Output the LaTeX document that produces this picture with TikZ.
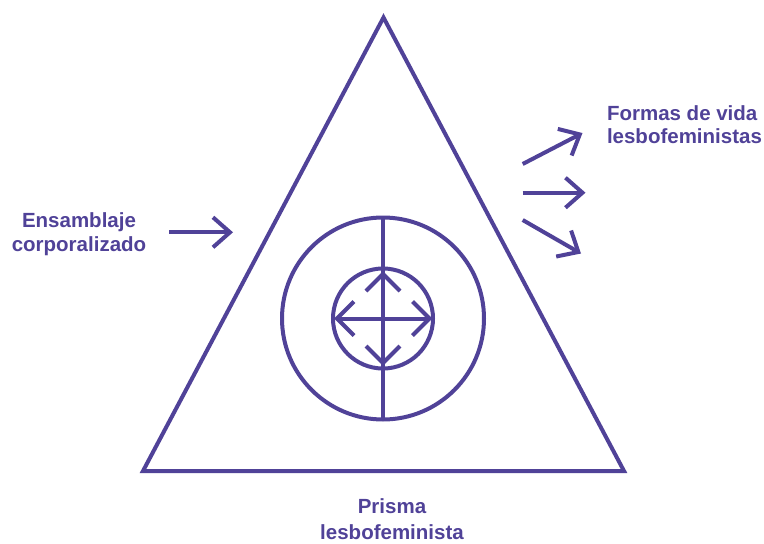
\documentclass[tikz,border=0pt]{standalone}
\usepackage{fontspec}
\setmainfont{Liberation Sans}
\usetikzlibrary{arrows.meta}
\definecolor{lp}{RGB}{80,66,152}
\begin{document}
\begin{tikzpicture}[x=1pt,y=-1pt,line width=4pt,
  lbl/.style={font=\bfseries\fontsize{20.5}{24}\selectfont,text=lp,inner sep=0pt},
  arr/.style={draw=lp,-{Straight Barb[length=17pt,width=30pt]}},
  shp/.style={draw=lp,line join=miter},
  ring/.style={circle,draw=lp,inner sep=0pt,outer sep=0pt}]
\useasboundingbox (0,0) rectangle (764,544);
% triangle
\coordinate (T) at (383.5,17.5);
\coordinate (BR) at (624,471);
\coordinate (BL) at (143,471);
\draw[shp] (T) -- (BR) -- (BL) -- cycle;
% circles
\node[ring,minimum size=202pt] (outer) at (383,318.5) {};
\node[ring,minimum size=100pt] (inner) at (383,318.5) {};
\draw[shp] (outer.north) -- (outer.south);
% central arrowheads
\coordinate (c) at (383,318.5);
\coordinate (at) at (383,274);
\coordinate (ab) at (383,363);
\coordinate (al) at (337,318.5);
\coordinate (ar) at (429.5,318.5);
\draw[shp] (al) -- (ar);
\draw[shp] ([shift={(-17,17)}]at) -- (at) -- ([shift={(17,17)}]at);
\draw[shp] ([shift={(-17,-17)}]ab) -- (ab) -- ([shift={(17,-17)}]ab);
\draw[shp] ([shift={(17,-17)}]al) -- (al) -- ([shift={(17,17)}]al);
\draw[shp] ([shift={(-17,-17)}]ar) -- (ar) -- ([shift={(-17,17)}]ar);
% labels
\node[lbl,anchor=base west] (f1) at (605,120) {Formas de vida};
\node[lbl,anchor=base west] (f2) at (605,143.5) {lesbofeministas};
\node[lbl,anchor=base] (e1) at (79,227) {Ensamblaje};
\node[lbl,anchor=base] (e2) at (79,251) {corporalizado};
\node[lbl,anchor=base] (p1) at (392,513) {Prisma};
\node[lbl,anchor=base] (p2) at (392,539) {lesbofeminista};
% side arrows
\coordinate (l0) at (169,232.3);
\coordinate (l1) at (233,232.3);
\draw[arr] (l0) -- (l1);
\coordinate (r0a) at (522.7,164);
\coordinate (r1a) at (582.5,133);
\coordinate (r0b) at (522.7,192.7);
\coordinate (r1b) at (585.5,192.7);
\coordinate (r0c) at (522.7,220);
\coordinate (r1c) at (581,253.5);
\draw[arr] (r0a) -- (r1a);
\draw[arr] (r0b) -- (r1b);
\draw[arr] (r0c) -- (r1c);
\end{tikzpicture}
\end{document}
